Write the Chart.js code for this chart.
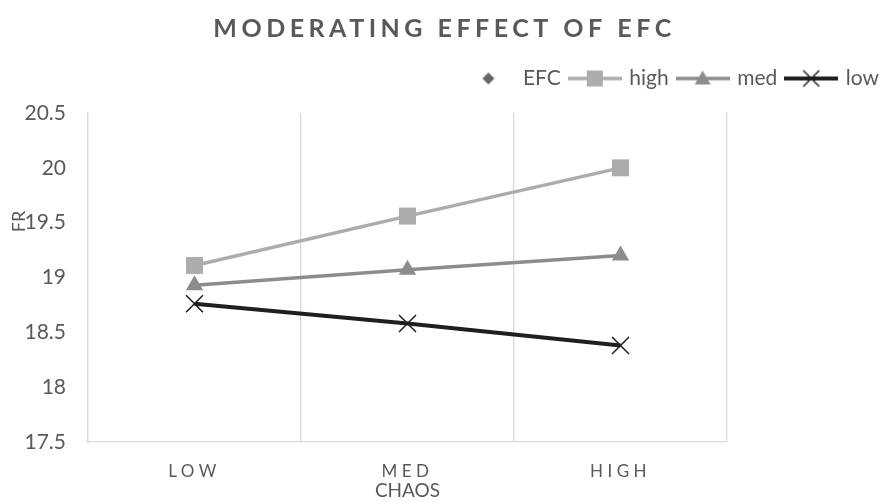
<!DOCTYPE html>
<html lang="en">
<head>
<meta charset="UTF-8">
<title>Moderating effect of EFC</title>
<script src="https://cdn.jsdelivr.net/npm/chart.js"></script>
<style>
  html, body { margin: 0; padding: 0; background: #fff; }
  #wrap { width: 880px; height: 502px; }
</style>
</head>
<body>
<div id="wrap"><canvas id="efcChart"></canvas></div>
<script>
// values
const categories = ['LOW', 'MED', 'HIGH'];
const highEFC = [19.11, 19.56, 20.0];
const medEFC = [18.93, 19.07, 19.2];
const lowEFC = [18.76, 18.58, 18.38];
const yTicks = [17.5, 18, 18.5, 19, 19.5, 20, 20.5];

const FONT = 'Lato';
const TEXT = '#595959';
const GRID = '#d9d9d9';
const colHigh = '#acacac';
const colMed = '#8c8c8c';
const colLow = '#1f1f1f';

// little legend icons: line + marker, like the office legend
function legendIcon(kind, color) {
    const c = document.createElement('canvas');
    c.width = 54; c.height = 20;
    const g = c.getContext('2d');
    const cx = 27, cy = 10;
    if (kind !== 'diamond') {
        g.strokeStyle = color;
        g.lineWidth = kind === 'cross' ? 4 : 3.5;
        g.beginPath(); g.moveTo(0, cy); g.lineTo(54, cy); g.stroke();
    }
    g.fillStyle = color;
    g.beginPath();
    if (kind === 'diamond') {
        g.moveTo(cx, cy - 6); g.lineTo(cx + 6, cy); g.lineTo(cx, cy + 6); g.lineTo(cx - 6, cy);
        g.closePath(); g.fill();
    } else if (kind === 'square') {
        g.rect(cx - 8, cy - 8, 16, 16); g.fill();
    } else if (kind === 'triangle') {
        g.moveTo(cx, cy - 8); g.lineTo(cx + 8, cy + 6); g.lineTo(cx - 8, cy + 6);
        g.closePath(); g.fill();
    } else {
        g.strokeStyle = colLow; g.lineWidth = 1.5;
        g.moveTo(cx - 8, cy - 8); g.lineTo(cx + 8, cy + 8);
        g.moveTo(cx + 8, cy - 8); g.lineTo(cx - 8, cy + 8);
        g.stroke();
    }
    return c;
}

const icons = {
    EFC: legendIcon('diamond', '#666666'),
    high: legendIcon('square', colHigh),
    med: legendIcon('triangle', colMed),
    low: legendIcon('cross', colLow)
};

const tweaks = {
    id: 'tweaks',
    beforeUpdate(chart) {
        // more room under the legend
        if (chart.legend && !chart.legend._tall) {
            chart.legend._tall = true;
            const fit = chart.legend.fit;
            chart.legend.fit = function () {
                fit.call(this);
                this.height += 14;
            };
        }
    },
    beforeDraw(chart) {
        // letter spacing for the title and the category labels
        if (chart._spacedDone) return;
        chart._spacedDone = true;
        const wrap = (obj, fn, px) => {
            const orig = obj[fn];
            obj[fn] = function (...args) {
                const ctx = chart.ctx;
                ctx.save();
                ctx.letterSpacing = px;
                orig.apply(this, args);
                ctx.restore();
            };
        };
        wrap(chart.titleBlock, 'draw', '4.5px');
        wrap(chart.scales.x, 'drawLabels', '4.5px');
    },
    afterDraw(chart) {
        // y axis title, placed where the office chart left it
        const ctx = chart.ctx;
        const a = chart.chartArea;
        ctx.save();
        ctx.translate(19, a.top + (a.bottom - a.top) * 0.33);
        ctx.rotate(-Math.PI / 2);
        ctx.font = '18px ' + FONT;
        ctx.fillStyle = TEXT;
        ctx.textAlign = 'center';
        ctx.textBaseline = 'middle';
        ctx.fillText('FR', 0, 0);
        ctx.restore();
    }
};

new Chart(document.getElementById('efcChart'), {
    type: 'line',
    data: {
        labels: categories,
        datasets: [
            { label: 'EFC', data: [], showLine: false },
            {
                label: 'high', data: highEFC,
                borderColor: colHigh, backgroundColor: colHigh, borderWidth: 3.5,
                pointStyle: 'rect', pointRadius: 12, pointBorderWidth: 0
            },
            {
                label: 'med', data: medEFC,
                borderColor: colMed, backgroundColor: colMed, borderWidth: 3.5,
                pointStyle: 'triangle', pointRadius: 10, pointBorderWidth: 0
            },
            {
                label: 'low', data: lowEFC,
                borderColor: colLow, backgroundColor: colLow, borderWidth: 4,
                pointStyle: 'crossRot', pointRadius: 12, pointBorderWidth: 1.5
            }
        ]
    },
    options: {
        responsive: true,
        maintainAspectRatio: false,
        animation: false,
        layout: { padding: { top: 0, bottom: 0, left: 0, right: -9 } },
        plugins: {
            title: {
                display: true,
                text: 'MODERATING EFFECT OF EFC',
                color: TEXT,
                font: { family: FONT, size: 25, weight: 'bold' },
                padding: { top: 14, bottom: 14 }
            },
            legend: {
                position: 'top',
                align: 'end',
                labels: {
                    usePointStyle: true,
                    pointStyleWidth: 48,
                    padding: 10,
                    color: TEXT,
                    font: { family: FONT, size: 21 },
                    generateLabels: (chart) => chart.data.datasets.map((ds, i) => ({
                        text: ds.label,
                        pointStyle: icons[ds.label],
                        fillStyle: 'transparent',
                        strokeStyle: 'transparent',
                        lineWidth: 0,
                        fontColor: TEXT,
                        hidden: false,
                        datasetIndex: i
                    }))
                }
            },
            tooltip: { enabled: false }
        },
        scales: {
            x: {
                offset: true,
                grid: { display: true, offset: true, color: GRID, lineWidth: 1.3, drawTicks: false },
                border: { display: true, color: GRID, width: 1.3 },
                ticks: { color: TEXT, font: { family: FONT, size: 17 }, padding: 19 },
                title: { display: true, text: 'CHAOS', color: TEXT, font: { family: FONT, size: 19 }, padding: { top: 0, bottom: 0 } },
                afterFit: (s) => { s.height = 60; }
            },
            y: {
                min: yTicks[0],
                max: yTicks[yTicks.length - 1],
                grid: { display: false, drawTicks: false },
                border: { display: true, color: GRID, width: 1.3 },
                ticks: {
                    stepSize: yTicks[1] - yTicks[0],
                    color: TEXT,
                    font: { family: FONT, size: 21 },
                    padding: 22,
                    callback: (v) => String(v)
                },
                afterFit: (s) => { s.width = 88; }
            },
            yRight: {
                position: 'right',
                display: true,
                grid: { display: false, drawTicks: false },
                border: { display: false },
                ticks: { display: false },
                afterFit: (s) => { s.width = 162; }
            }
        }
    },
    plugins: [tweaks]
});
</script>
</body>
</html>
